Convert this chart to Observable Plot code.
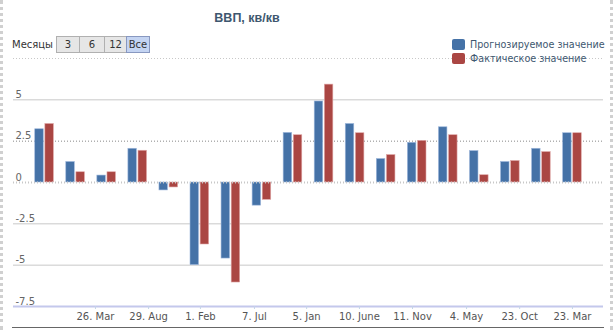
<!DOCTYPE html>
<html>
<head>
<meta charset="utf-8">
<script src="https://cdn.jsdelivr.net/npm/d3@7"></script>
<script src="https://cdn.jsdelivr.net/npm/@observablehq/plot@0.6"></script>
<style>
  body { margin: 0; background: #fff; font-family: "DejaVu Sans", sans-serif; }
  #wrap { position: relative; width: 616px; height: 330px; overflow: hidden; }
  #wrap svg { position: absolute; left: 0; top: 0; }
  .bl { position: absolute; top: 0; bottom: 0; width: 3px; border-left: 3px dotted #d0d0d0; }
  #title { position: absolute; left: 147px; width: 200px; top: 11px; text-align: center; font-family: "Liberation Sans", sans-serif; font-weight: bold; font-size: 12.5px; color: #3e576f; }
  #rs { position: absolute; left: 12px; top: 36px; height: 17px; display: flex; align-items: center; font-size: 10px; color: #333; z-index: 2; }
  #rs .lab { margin-right: 4px; }
  #rs .btn { height: 15px; line-height: 15px; text-align: center; border: 1px solid #b0b0b0; background: #e6e6e6; color: #333; margin-left: -1px; }
  #rs .btn.on { background: #c4d4f2; border-color: #8898c0; }
  #legend { position: absolute; left: 452px; top: 37px; font-size: 9.6px; color: #3e576f; z-index: 2; }
  #legend .it { display: flex; align-items: center; height: 14px; }
  #legend .sw { width: 13px; height: 11px; border-radius: 2px; margin-right: 5px; }
  #bottomline { position: absolute; left: 12px; width: 592px; top: 327px; height: 1px; background: #666; }
</style>
</head>
<body>
<div id="wrap">
  <div class="bl" style="left:0"></div>
  <div class="bl" style="left:610px"></div>
  <div id="title"></div>
  <div id="rs"></div>
  <div id="legend"></div>
  <div id="bottomline"></div>
</div>
<script>
const chartTitle = "ВВП, кв/кв";
const seriesNames = ["Прогнозируемое значение", "Фактическое значение"];
const seriesColors = ["#4572a7", "#aa4643"];
const rangeLabel = "Месяцы";
const rangeButtons = ["3", "6", "12", "Все"];

// quarterly observations, in order
const forecast = [3.22, 1.24, 0.42, 2.04, -0.48, -5.0, -4.6, -1.4, 3.0, 4.9, 3.54, 1.42, 2.4, 3.34, 1.9, 1.24, 2.04, 2.98];
const actual   = [3.54, 0.62, 0.62, 1.92, -0.3, -3.75, -6.05, -1.05, 2.86, 5.92, 2.98, 1.66, 2.52, 2.86, 0.44, 1.3, 1.84, 2.98];

// date tick labels, placed along the observation index
const xTickPos = [1.64, 3.35, 5.02, 6.76, 8.44, 10.14, 11.85, 13.59, 15.3, 17.0];
const xTickLabels = ["26. Mar", "29. Aug", "1. Feb", "7. Jul", "5. Jan", "10. June", "11. Nov", "4. May", "23. Oct", "23. Mar"];

const yTicks = [5, 2.5, 0, -2.5, -5, -7.5];
const yTickLabels = ["5", "2.5", "0", "-2.5", "-5", "-7.5"];

document.getElementById("title").textContent = chartTitle;

const rs = document.getElementById("rs");
const lab = document.createElement("span"); lab.className = "lab"; lab.textContent = rangeLabel; rs.appendChild(lab);
const bw = [22, 24, 21, 22];
rangeButtons.forEach((b, i) => {
  const el = document.createElement("span");
  el.className = "btn" + (i === rangeButtons.length - 1 ? " on" : "");
  el.style.width = bw[i] + "px";
  el.textContent = b;
  rs.appendChild(el);
});

const lg = document.getElementById("legend");
seriesNames.forEach((n, i) => {
  const it = document.createElement("div"); it.className = "it";
  const sw = document.createElement("span"); sw.className = "sw"; sw.style.background = seriesColors[i];
  const t = document.createElement("span"); t.textContent = n;
  it.appendChild(sw); it.appendChild(t); lg.appendChild(it);
});

const rows = [];
forecast.forEach((v, i) => rows.push({i, v, s: 0}));
actual.forEach((v, i) => rows.push({i, v, s: 1}));
const labelMap = new Map(xTickPos.map((p, k) => [p, xTickLabels[k]]));
const yLabMap = new Map(yTicks.map((p, k) => [p, yTickLabels[k]]));
const outer = 0.3, inner = 0.026;

const chart = Plot.plot({
  width: 616,
  height: 330,
  marginTop: 58,
  marginBottom: 24,
  marginLeft: 13,
  marginRight: 13,
  style: {fontFamily: "DejaVu Sans, sans-serif", fontSize: "10px", background: "transparent"},
  x: {type: "linear", domain: [-1, forecast.length], axis: null},
  y: {domain: [-7.5, 7.5], axis: null},
  marks: [
    Plot.ruleY([7.5], {stroke: "#c8c8c8", strokeDasharray: "1,2", strokeWidth: 1}),
    Plot.ruleY([5, -2.5, -5], {stroke: "#c8c8c8", strokeWidth: 1}),
    Plot.ruleY([2.5], {stroke: "#888", strokeDasharray: "1,2", strokeWidth: 1}),
    Plot.rect(rows, {
      x1: d => d.s === 0 ? d.i - outer : d.i + inner,
      x2: d => d.s === 0 ? d.i - inner : d.i + outer,
      y1: () => 0, y2: "v",
      fill: d => seriesColors[d.s],
      stroke: d => d.s === 0 ? "#9fb8dc" : "#e0a8a8",
      strokeWidth: 0.6
    }),
    Plot.ruleY([0], {stroke: "#c8c8c8", strokeDasharray: "1,2", strokeWidth: 2}),
    Plot.ruleY([-7.5], {stroke: "#c4c8ec", strokeWidth: 2}),
    Plot.text(yTicks, {
      y: d => d, text: d => yLabMap.get(d), frameAnchor: "left",
      textAnchor: "start", lineAnchor: "bottom", dx: 2, dy: -2, fill: "#666",
      filter: d => d !== 7.5
    }),
    Plot.axisX({
      ticks: xTickPos, tickFormat: d => labelMap.get(d),
      tickSize: 3, tickPadding: 3, stroke: "#c4d4e8", color: "#555", fontSize: 10
    })
  ]
});
document.getElementById("wrap").appendChild(chart);
</script>
</body>
</html>
